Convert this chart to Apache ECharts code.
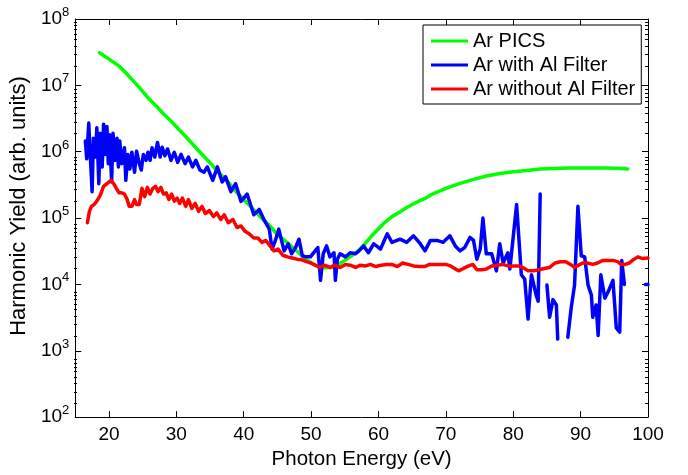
<!DOCTYPE html>
<html><head><meta charset="utf-8">
<script src="https://cdn.jsdelivr.net/npm/echarts@6/dist/echarts.min.js"></script>
<style>html,body{margin:0;padding:0;background:#fff}#c{width:688px;height:475px}</style>
</head><body><div id="c"></div>
<script>
const seriesNames = ['Ar PICS', 'Ar with Al Filter', 'Ar without Al Filter'];

const greenX = [18.6,19.5,20.5,21.5,22.5,23.5,24.5,25.8,27.0,28.0,
  29.2,30.5,32.0,33.5,35.0,36.5,38.0,39.0,40.0,41.0,
  42,43,44,45,46,47,48,49,50,51,
  52,53,54,55,56,57,58,59,60,61,
  62,63,64,65,66,67,68,
  70,72,74,76,78,80,82,84,86,88,
  90,92,94,96,97];
const greenY = [3.1e7,2.7e7,2.3e7,1.95e7,1.55e7,1.2e7,9.3e6,6.5e6,4.9e6,3.8e6,
  2.9e6,2.1e6,1.45e6,9.8e5,6.8e5,4.6e5,3.2e5,2.4e5,1.9e5,1.5e5,
  1.17e5,9.3e4,7.4e4,5.6e4,4.7e4,3.8e4,3.1e4,2.5e4,2.1e4,1.86e4,
  1.78e4,1.8e4,2.0e4,2.3e4,2.7e4,3.2e4,4.1e4,5.4e4,6.9e4,8.7e4,
  1.05e5,1.2e5,1.4e5,1.6e5,1.8e5,2.0e5,2.3e5,
  2.8e5,3.3e5,3.8e5,4.3e5,4.7e5,5.0e5,5.2e5,5.5e5,5.6e5,5.7e5,
  5.7e5,5.7e5,5.7e5,5.6e5,5.5e5];

const blueX = [16.5,16.7,17.0,17.2,17.5,17.7,18.0,18.2,18.5,18.7,
  19.0,19.2,19.4,19.7,19.9,20.1,20.4,20.6,20.9,21.2,
  21.4,21.6,21.9,22.3,22.5,22.8,23.1,23.4,23.8,24.1,
  24.5,24.8,25.1,25.5,25.8,26.1,26.4,26.8,27.2,27.6,
  27.9,28.3,28.7,29.2,29.7,30.2,30.7,31.3,31.8,32.4,
  32.9,33.5,34.1,34.6,35.4,36.1,36.8,37.3,38.1,38.8,
  39.6,40.5,41.5,42.3,43.0,43.8,44.2,44.7,45.2,46.0,
  46.6,47.1,47.7,48.2,48.7,49.2,49.9,50.6,51.0,51.4,
  51.8,52.3,52.8,53.4,53.6,53.9,54.3,55.1,55.8,56.6,
  57.1,57.8,58.5,59.3,60.3,61.3,62.0,63.2,64.2,65.2,
  66.2,66.9,67.7,68.7,69.6,70.6,71.4,72.1,72.8,73.6,
  74.1,74.6,75.1,75.5,76.0,76.8,77.5,78.0,78.5,79.2,
  79.5,80.5,81.2,81.7,82.2,82.7,83.4,83.7,84.0,84.2,
  85.0,85.4,85.9,86.4,86.6,87.3,88.1,88.6,89.1,89.6,
  90.1,90.6,91.1,91.6,91.8,92.3,92.6,93.0,93.6,94.1,
  94.8,95.3,95.8,96.1,96.5,98.0,99.6,100];
const blueY = [1.45e6,7.8e5,2.7e6,1.0e6,2.5e5,1.6e6,8.3e5,2.3e6,3.3e5,1.9e6,
  5.9e5,2.6e6,9.1e5,2.4e6,6.6e5,1.8e6,3.5e5,1.9e6,7.4e5,1.6e6,
  5.9e5,1.45e6,6.6e5,1.15e6,3.7e5,9.1e5,5.5e5,9.8e5,4.9e5,1.02e6,
  6.6e5,5.3e5,9.1e5,7.4e5,9.8e5,7.4e5,1.15e6,8.3e5,1.38e6,8.3e5,
  1.17e6,8.7e5,1.1e6,7.4e5,9.8e5,6.9e5,9.1e5,6.6e5,8.3e5,5.9e5,
  7.4e5,5.3e5,4.9e5,5.9e5,3.7e5,5.9e5,3.5e5,4.2e5,2.5e5,3.3e5,
  1.78e5,2.3e5,1.12e5,1.35e5,9.5e4,6.8e4,3.4e4,4.6e4,6.8e4,3.2e4,
  4.1e4,2.9e4,3.6e4,4.8e4,2.7e4,2.6e4,2.6e4,3.2e4,3.6e4,1.15e4,
  2.9e4,3.8e4,2.6e4,3.0e4,1.15e4,2.4e4,2.9e4,2.6e4,3.0e4,2.9e4,
  3.2e4,3.8e4,3.0e4,4.1e4,3.4e4,5.8e4,4.3e4,4.8e4,4.3e4,5.4e4,
  4.1e4,3.2e4,4.6e4,4.6e4,4.3e4,5.4e4,3.8e4,3.2e4,3.6e4,5.1e4,
  4.6e4,2.4e4,3.4e4,1.0e5,2.9e4,2.9e4,1.6e4,4.1e4,2.1e4,3.0e4,
  1.7e4,1.6e5,1.4e4,1.2e4,3.0e3,1.4e4,6.9e3,5.6e3,2.3e5,null,
  9.8e3,3.2e3,5.9e3,4.9e3,1.5e3,null,1.6e3,4.4e3,9.8e3,1.5e5,
  2.7e4,2.6e4,9.8e3,6.9e3,3.2e3,4.9e3,1.7e3,1.4e4,6.2e3,7.8e3,
  1.15e4,2.2e3,1.9e3,2.3e4,1.0e4,null,1.0e4,1.0e4];

const redX = [16.8,17.1,17.4,17.8,18.2,18.7,19.2,19.7,20.3,20.7,
  21.1,21.5,21.9,22.3,22.7,23.0,23.4,23.8,24.1,24.5,
  24.9,25.3,25.7,26.1,26.5,26.9,27.3,27.7,28.1,28.5,
  28.9,29.3,29.7,30.1,30.5,30.9,31.4,31.8,32.3,32.8,
  33.3,33.8,34.3,34.9,35.5,36.0,36.6,37.1,37.7,38.4,
  39.0,39.6,40.2,40.8,41.5,42.1,42.7,43.3,43.9,44.5,
  45.1,45.8,46.5,47.2,47.9,48.6,49.3,50.0,50.6,51.3,
  52.0,52.8,53.5,54.3,55.1,55.8,56.6,57.3,58.1,58.8,
  59.6,60.4,61.2,62.0,62.8,63.6,64.4,65.2,66.0,66.8,
  67.6,68.4,69.2,70.0,70.7,71.3,71.9,72.6,73.4,74.0,
  74.6,75.3,76.0,76.8,77.6,78.4,79.2,80.0,80.8,81.5,
  82.2,83.0,83.8,84.6,85.4,86.2,87.0,87.8,88.5,89.1,
  89.7,90.3,91.0,91.8,92.5,93.3,94.0,94.8,95.5,96.0,
  96.6,97.2,97.8,98.5,99.2,100];
const redY = [8.5e4,1.26e5,1.5e5,1.6e5,1.8e5,2.2e5,3.0e5,3.3e5,3.7e5,3.3e5,
  2.8e5,2.4e5,2.4e5,2.3e5,1.9e5,1.5e5,1.5e5,1.9e5,1.6e5,1.6e5,
  2.8e5,2.1e5,2.9e5,2.3e5,2.8e5,3.0e5,2.5e5,2.9e5,2.3e5,2.4e5,
  1.9e5,2.3e5,1.8e5,2.0e5,1.66e5,2.0e5,1.5e5,1.9e5,1.4e5,1.66e5,
  1.26e5,1.5e5,1.17e5,1.3e5,1.05e5,1.2e5,9.5e4,1.12e5,8.5e4,9.5e4,
  7.2e4,7.6e4,6.3e4,5.8e4,5.0e4,5.0e4,4.3e4,4.6e4,3.8e4,3.2e4,
  3.4e4,2.75e4,2.6e4,2.5e4,2.4e4,2.35e4,2.2e4,2.1e4,1.95e4,1.8e4,
  1.95e4,1.8e4,1.95e4,1.8e4,2.0e4,1.95e4,1.8e4,1.95e4,1.9e4,2.0e4,
  1.86e4,1.95e4,2.0e4,2.0e4,1.86e4,2.1e4,2.0e4,1.9e4,1.86e4,1.86e4,
  2.0e4,2.0e4,2.0e4,2.0e4,1.9e4,1.74e4,1.6e4,1.74e4,1.9e4,2.0e4,
  1.66e4,1.66e4,1.7e4,1.9e4,1.95e4,2.0e4,1.9e4,1.9e4,1.9e4,1.78e4,
  1.6e4,1.6e4,1.66e4,1.74e4,1.8e4,2.1e4,2.2e4,2.2e4,2.0e4,1.8e4,
  1.95e4,2.1e4,2.1e4,2.0e4,2.1e4,2.3e4,2.3e4,2.3e4,2.2e4,2.0e4,
  2.0e4,2.1e4,2.35e4,2.6e4,2.45e4,2.5e4];

const xLabelValues = [20,30,40,50,60,70,80,90,100];
const xTickValues = [20,30,40,50,60,70,80,90];
const yMajorValues = [1e2,1e3,1e4,1e5,1e6,1e7,1e8];
const yMinorValues = [];
for (let d = 2; d < 8; d++) for (let m = 2; m < 10; m++) yMinorValues.push(m * Math.pow(10, d));

const FONT = '"Liberation Sans", Arial, Helvetica, sans-serif';
const colors = ['#00ff00', '#0000ff', '#ff0000'];

function pairs(xs, ys) { return xs.map((x, i) => [x, ys[i] == null ? '-' : ys[i]]); }

const gridRect = {left: 74, top: 19, width: 574, height: 405};
const black = {color: '#000', width: 1};

const chart = echarts.init(document.getElementById('c'), null, {renderer: 'canvas'});
chart.setOption({
  animation: false,
  backgroundColor: '#fff',
  grid: [Object.assign({}, gridRect), Object.assign({}, gridRect)],
  xAxis: [
    {gridIndex: 0, type: 'value', min: 15, max: 100, position: 'bottom',
     axisLine: {show: true, onZero: false, lineStyle: black},
     axisTick: {show: true, inside: true, length: 6, customValues: xTickValues, lineStyle: black},
     axisLabel: {customValues: xLabelValues, color: '#000', fontSize: 19, fontFamily: FONT, margin: 8},
     splitLine: {show: false},
     name: 'Photon Energy (eV)', nameLocation: 'middle', nameGap: 25,
     nameTextStyle: {color: '#000', fontSize: 20.5, fontFamily: FONT}},
    {gridIndex: 0, type: 'value', min: 15, max: 100, position: 'top',
     axisLine: {show: true, onZero: false, lineStyle: black},
     axisTick: {show: true, inside: true, length: 6, customValues: xTickValues, lineStyle: black},
     axisLabel: {show: false}, splitLine: {show: false}},
    {gridIndex: 1, type: 'value', min: 15, max: 100, show: false}
  ],
  yAxis: [
    {gridIndex: 0, type: 'log', logBase: 10, min: 1e2, max: 1e8, position: 'left',
     axisLine: {show: true, onZero: false, lineStyle: black},
     axisTick: {show: true, inside: true, length: 6, customValues: yMajorValues, lineStyle: black},
     axisLabel: {customValues: yMajorValues, margin: 6,
       formatter: v => '{b|10}{e|' + Math.round(Math.log10(v)) + '}',
       rich: {b: {fontSize: 19, fontFamily: FONT, color: '#000', lineHeight: 26},
              e: {fontSize: 13, fontFamily: FONT, color: '#000', lineHeight: 13, verticalAlign: 'top'}}},
     splitLine: {show: false},
     name: 'Harmonic Yield (arb. units)', nameLocation: 'middle', nameGap: 37,
     nameTextStyle: {color: '#000', fontSize: 22, fontFamily: FONT, padding: [0, 0, 0, 24]}},
    {gridIndex: 0, type: 'log', logBase: 10, min: 1e2, max: 1e8, position: 'right',
     axisLine: {show: true, onZero: false, lineStyle: black},
     axisTick: {show: true, inside: true, length: 6, customValues: yMajorValues, lineStyle: black},
     axisLabel: {show: false}, splitLine: {show: false}},
    {gridIndex: 1, type: 'log', logBase: 10, min: 1e2, max: 1e8, position: 'left',
     axisLine: {show: false, onZero: false},
     axisTick: {show: true, inside: true, length: 3, customValues: yMinorValues, lineStyle: black},
     axisLabel: {show: false}, splitLine: {show: false}},
    {gridIndex: 1, type: 'log', logBase: 10, min: 1e2, max: 1e8, position: 'right',
     axisLine: {show: false, onZero: false},
     axisTick: {show: true, inside: true, length: 3, customValues: yMinorValues, lineStyle: black},
     axisLabel: {show: false}, splitLine: {show: false}}
  ],
  legend: {
    orient: 'vertical', left: 423, top: 25,
    itemWidth: 37, itemHeight: 3, itemGap: 4, icon: 'rect',
    padding: [6, 6, 5, 8],
    borderColor: '#000', borderWidth: 1, backgroundColor: '#fff',
    textStyle: {fontFamily: FONT, fontSize: 20, color: '#000', lineHeight: 20},
    data: seriesNames
  },
  series: [
    {name: seriesNames[0], data: pairs(greenX, greenY)},
    {name: seriesNames[1], data: pairs(blueX, blueY)},
    {name: seriesNames[2], data: pairs(redX, redY)}
  ].map((s, i) => Object.assign(s, {
    type: 'line', xAxisIndex: 0, yAxisIndex: 0, showSymbol: false, symbol: 'none',
    connectNulls: false, z: 2 + i,
    lineStyle: {color: colors[i], width: 3.5, join: 'round', cap: 'round'}, itemStyle: {color: colors[i]}
  }))
});
</script>
</body></html>
